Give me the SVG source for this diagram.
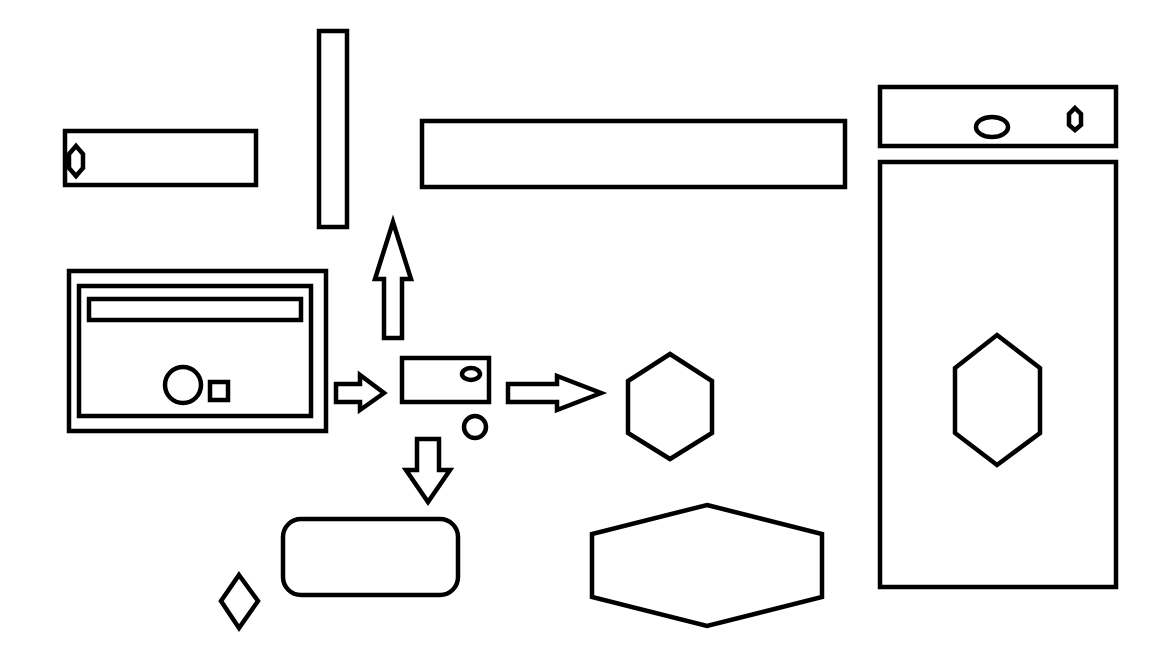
<svg xmlns="http://www.w3.org/2000/svg" width="1152" height="648" viewBox="0 0 1152 648">
<style>
.s{fill:none;stroke:#000;stroke-width:4.5;stroke-linejoin:miter}
</style>
<rect width="1152" height="648" fill="#fff"/>
<g id="node-topleft">
<rect class="s" x="65" y="131" width="191" height="54"/>
<polygon class="s" points="76,146 83,154 83,168 76,176 69,168 69,154"/>
</g>
<g id="node-tall">
<rect class="s" x="319" y="31" width="28" height="196"/>
</g>
<g id="node-wide">
<rect class="s" x="422" y="121" width="423" height="66"/>
</g>
<g id="node-topright">
<rect class="s" x="880" y="87" width="236" height="59"/>
<ellipse class="s" cx="992" cy="127" rx="16" ry="10"/>
<polygon class="s" points="1075,108 1081,114 1081,125 1075,130 1069,125 1069,114"/>
</g>
<g id="node-bigright">
<rect class="s" x="880" y="162" width="236" height="425"/>
<polygon class="s" points="997,335 1040,368 1040,433 997,465 955,433 955,368"/>
</g>
<g id="node-panel">
<rect class="s" x="69" y="271" width="257" height="160"/>
<rect class="s" x="79" y="286" width="232" height="130"/>
<rect class="s" x="89" y="299" width="212" height="21"/>
<circle class="s" cx="183" cy="385" r="18"/>
<rect class="s" x="210" y="382" width="18" height="18"/>
</g>
<g id="node-center">
<rect class="s" x="402" y="358" width="87" height="44"/>
<ellipse class="s" cx="471" cy="374" rx="9" ry="6"/>
</g>
<g id="node-smallcircle">
<circle class="s" cx="475" cy="427" r="11"/>
</g>
<g id="node-hexagon">
<polygon class="s" points="670,354 712,381 712,433 670,459 628,433 628,381"/>
</g>
<g id="node-rounded">
<rect class="s" x="283" y="519" width="175" height="76" rx="18" ry="18"/>
</g>
<g id="node-diamond">
<polygon class="s" points="239,575 258,601 239,628 221,601"/>
</g>
<g id="node-widehex">
<polygon class="s" points="707,505 822,534 822,597 707,626 592,597 592,534"/>
</g>
<g id="connectors">
<polygon class="s" points="393,222 375,279 384,279 384,338 402,338 402,279 411,279"/>
<polygon class="s" points="336,384 360,384 360,375 384,393 360,410 360,402 336,402"/>
<polygon class="s" points="508,384 557,384 557,376 601,393 557,410 557,402 508,402"/>
<polygon class="s" points="417,439 439,439 439,470 450,470 428,502 406,470 417,470"/>
</g>
</svg>
